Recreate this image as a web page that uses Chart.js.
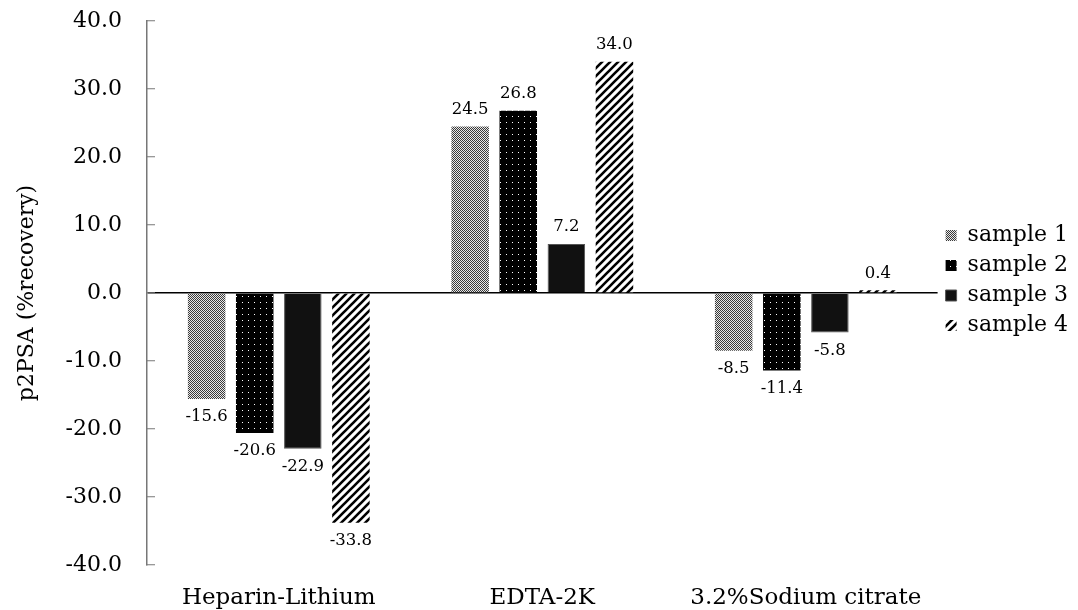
<!DOCTYPE html>
<html>
<head>
<meta charset="utf-8">
<script src="https://cdn.jsdelivr.net/npm/chart.js@4"></script>
<style>
  html, body { margin: 0; padding: 0; background: #fff; }
  #wrap { width: 1078px; height: 610px; }
</style>
</head>
<body>
<div id="wrap"><canvas id="p2psa-chart" width="1078" height="610"></canvas></div>
<script>
const categories = ['Heparin-Lithium', 'EDTA-2K', '3.2%Sodium citrate'];
const seriesNames = ['sample 1', 'sample 2', 'sample 3', 'sample 4'];
const sample1 = [-15.6, 24.5, -8.5];
const sample2 = [-20.6, 26.8, -11.4];
const sample3 = [-22.9, 7.2, -5.8];
const sample4 = [-33.8, 34.0, 0.4];
const yTicks = [-40, -30, -20, -10, 0, 10, 20, 30, 40];

const FONT = "'DejaVu Serif', 'Liberation Serif', serif";

function makeTile(size, draw) {
    const c = document.createElement('canvas');
    c.width = size;
    c.height = size;
    draw(c.getContext('2d'), size);
    return document.createElement('canvas').getContext('2d').createPattern(c, 'repeat');
}

// fine grey dither
const pat1 = makeTile(8, function (g, s) {
    for (let y = 0; y < s; y++) {
        for (let x = 0; x < s; x++) {
            g.fillStyle = (x + y) % 2 === 0 ? '#3a3a3a' : '#e8e8e8';
            g.fillRect(x, y, 1, 1);
        }
    }
});

// black with white dots
const pat2 = makeTile(6, function (g, s) {
    g.fillStyle = '#000';
    g.fillRect(0, 0, s, s);
    g.fillStyle = '#fff';
    g.fillRect(2, 2, 1, 1);
});

// diagonal stripes
const pat4 = makeTile(8, function (g, s) {
    g.fillStyle = '#fff';
    g.fillRect(0, 0, s, s);
    g.strokeStyle = '#000';
    g.lineWidth = 2.6;
    g.beginPath();
    g.moveTo(-2, s + 2); g.lineTo(s + 2, -2);
    g.moveTo(-2, 2); g.lineTo(2, -2);
    g.moveTo(s - 2, s + 2); g.lineTo(s + 2, s - 2);
    g.stroke();
});

const fills = [pat1, pat2, '#111111', pat4];
const seriesValues = [sample1, sample2, sample3, sample4];

const valueLabels = {
    id: 'valueLabels',
    afterDatasetsDraw(chart) {
        const ctx = chart.ctx;
        ctx.save();
        ctx.font = '16.5px ' + FONT;
        ctx.fillStyle = '#000';
        ctx.textAlign = 'center';
        ctx.textBaseline = 'middle';
        chart.data.datasets.forEach(function (ds, i) {
            chart.getDatasetMeta(i).data.forEach(function (bar, j) {
                const v = ds.data[j];
                const y = v >= 0 ? bar.y - 17 : bar.y + 18;
                ctx.fillText(v.toFixed(1), bar.x, y);
            });
        });
        ctx.restore();
    }
};

// legend sits a bit above the middle of the canvas
const legendShift = {
    id: 'legendShift',
    afterLayout(chart) {
        chart.legend.top -= 35;
        chart.legend.bottom -= 35;
    }
};

const data = {
    labels: categories,
    datasets: seriesNames.map(function (name, i) {
        return {
            label: name,
            data: seriesValues[i],
            backgroundColor: fills[i],
            borderColor: i === 2 ? '#555' : 'rgba(0,0,0,0)',
            borderWidth: i === 2 ? 1 : 0,
            categoryPercentage: 0.73,
            barPercentage: 0.78
        };
    })
};

const config = {
    type: 'bar',
    data: data,
    options: {
        responsive: false,
        animation: false,
        layout: {
            padding: { left: 0, top: 21, right: 0, bottom: 0 }
        },
        scales: {
            x: {
                grid: { display: false },
                border: { display: false },
                ticks: {
                    color: '#000',
                    font: { family: FONT, size: 23 },
                    padding: 11
                },
                afterFit(scale) {
                    scale.height = 45;
                    scale.paddingLeft = 0;
                    scale.paddingRight = 0;
                }
            },
            y: {
                min: -40,
                max: 40,
                afterBuildTicks(scale) {
                    scale.ticks = yTicks.map(function (v) { return { value: v }; });
                },
                grid: {
                    color: function (c) { return c.tick && c.tick.value === 0 ? '#000' : 'rgba(0,0,0,0)'; },
                    lineWidth: 1.5,
                    tickColor: '#777',
                    tickWidth: 1,
                    tickLength: -8
                },
                border: { display: true, color: '#777', width: 1.5 },
                ticks: {
                    color: '#000',
                    font: { family: FONT, size: 22 },
                    padding: 33,
                    callback: function (v) { return v.toFixed(1); }
                },
                title: {
                    display: true,
                    text: 'p2PSA (%recovery)',
                    color: '#000',
                    font: { family: FONT, size: 22 },
                    padding: { top: 14, bottom: 0 }
                },
                afterFit(scale) {
                    scale.width = 147;
                    scale.paddingTop = 10;
                    scale.paddingBottom = 10;
                }
            }
        },
        plugins: {
            legend: {
                position: 'right',
                labels: {
                    color: '#000',
                    font: { family: FONT, size: 22 },
                    boxWidth: 11,
                    boxHeight: 11,
                    padding: 8
                }
            },
            tooltip: { enabled: false }
        }
    },
    plugins: [valueLabels, legendShift]
};

const p2psaChart = new Chart(document.getElementById('p2psa-chart'), config);
</script>
</body>
</html>
